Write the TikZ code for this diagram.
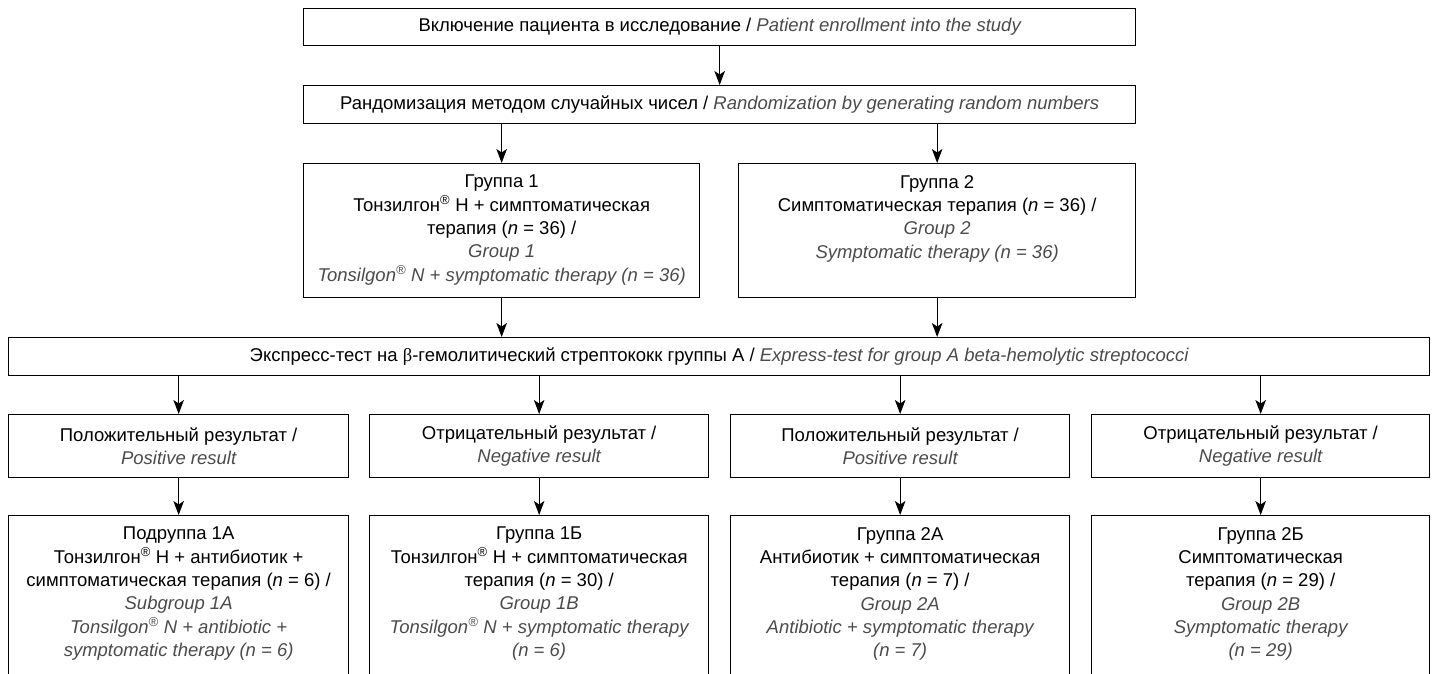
\documentclass[tikz,border=0pt]{standalone}
\usepackage{fontspec}
\setmainfont{Liberation Sans}
\newfontfamily\betafont{Liberation Serif}
\usetikzlibrary{arrows.meta}
\definecolor{engray}{RGB}{75,75,75}
\newcommand{\en}[1]{{\color{engray}\itshape #1}}
\newcommand{\rg}{\textsuperscript{®}}
\tikzset{
  box/.style={draw, line width=1.3pt, rectangle, inner sep=0pt, anchor=north west},
  txt/.style={align=center, font=\fontsize{18.5}{23.3}\selectfont, inner sep=0pt},
  arr/.style={-{Stealth[length=14pt,width=10.5pt,inset=3.5pt]}, line width=1.3pt},
}
\begin{document}
\begin{tikzpicture}[x=1pt,y=-1pt]
\useasboundingbox (0,0) rectangle (1437,673);
\clip (0,0) rectangle (1437,673);
% boxes
\node[box, minimum width=832pt, minimum height=37pt] (b1) at (303,8) {};
\node[box, minimum width=832pt, minimum height=38pt] (b2) at (303,85) {};
\node[box, minimum width=396pt, minimum height=134pt] (g1) at (303,163) {};
\node[box, minimum width=397pt, minimum height=134pt] (g2) at (738,163) {};
\node[box, minimum width=1421pt, minimum height=38pt] (ex) at (8,337) {};
\node[box, minimum width=340pt, minimum height=63pt] (r1) at (8,414) {};
\node[box, minimum width=339pt, minimum height=63pt] (r2) at (369,414) {};
\node[box, minimum width=339pt, minimum height=63pt] (r3) at (730,414) {};
\node[box, minimum width=338pt, minimum height=63pt] (r4) at (1091,414) {};
\node[box, minimum width=340pt, minimum height=200pt] (s1) at (8,515) {};
\node[box, minimum width=339pt, minimum height=200pt] (s2) at (369,515) {};
\node[box, minimum width=339pt, minimum height=200pt] (s3) at (730,515) {};
\node[box, minimum width=338pt, minimum height=200pt] (s4) at (1091,515) {};
% texts
\node[txt] (t1) at (b1.center) {Включение пациента в исследование / \en{Patient enrollment into the study}};
\node[txt] (t2) at (b2.center) {Рандомизация методом случайных чисел / \en{Randomization by generating random numbers}};
\node[txt, anchor=north] (tg1) at ([yshift=-12pt]g1.north) {Группа 1\\Тонзилгон\rg{} Н + симптоматическая\\терапия (\textit{n} = 36) /\\\en{Group 1}\\\en{Tonsilgon\rg{} N + symptomatic therapy (n = 36)}};
\node[txt, anchor=north] (tg2) at ([yshift=-12pt]g2.north) {Группа 2\\Симптоматическая терапия (\textit{n} = 36) /\\\en{Group 2}\\\en{Symptomatic therapy (n = 36)}};
\node[txt] (tex) at (ex.center) {Экспресс-тест на {\betafont β}-гемолитический стрептококк группы А / \en{Express-test for group A beta-hemolytic streptococci}};
\node[txt] (tr1) at (r1.center) {Положительный результат /\\\en{Positive result}};
\node[txt] (tr2) at (r2.center) {Отрицательный результат /\\\en{Negative result}};
\node[txt] (tr3) at (r3.center) {Положительный результат /\\\en{Positive result}};
\node[txt] (tr4) at (r4.center) {Отрицательный результат /\\\en{Negative result}};
\node[txt, anchor=north] (ts1) at ([yshift=-12pt]s1.north) {Подруппа 1А\\Тонзилгон\rg{} Н + антибиотик +\\симптоматическая терапия (\textit{n} = 6) /\\\en{Subgroup 1A}\\\en{Tonsilgon\rg{} N + antibiotic +}\\\en{symptomatic therapy (n = 6)}};
\node[txt, anchor=north] (ts2) at ([yshift=-12pt]s2.north) {Группа 1Б\\Тонзилгон\rg{} Н + симптоматическая\\терапия (\textit{n} = 30) /\\\en{Group 1B}\\\en{Tonsilgon\rg{} N + symptomatic therapy}\\\en{(n = 6)}};
\node[txt, anchor=north] (ts3) at ([yshift=-12pt]s3.north) {Группа 2А\\Антибиотик + симптоматическая\\терапия (\textit{n} = 7) /\\\en{Group 2A}\\\en{Antibiotic + symptomatic therapy}\\\en{(n = 7)}};
\node[txt, anchor=north] (ts4) at ([yshift=-12pt]s4.north) {Группа 2Б\\Симптоматическая\\терапия (\textit{n} = 29) /\\\en{Group 2B}\\\en{Symptomatic therapy}\\\en{(n = 29)}};
% arrows
\draw[arr] (b1.south) -- (b2.north);
\draw[arr] (g1.north |- b2.south) -- (g1.north);
\draw[arr] (g2.north |- b2.south) -- (g2.north);
\draw[arr] (g1.south) -- (g1.south |- ex.north);
\draw[arr] (g2.south) -- (g2.south |- ex.north);
\foreach \i in {1,2,3,4}{
  \draw[arr] (r\i.north |- ex.south) -- (r\i.north);
  \draw[arr] (r\i.south) -- (s\i.north);
}
\end{tikzpicture}
\end{document}
